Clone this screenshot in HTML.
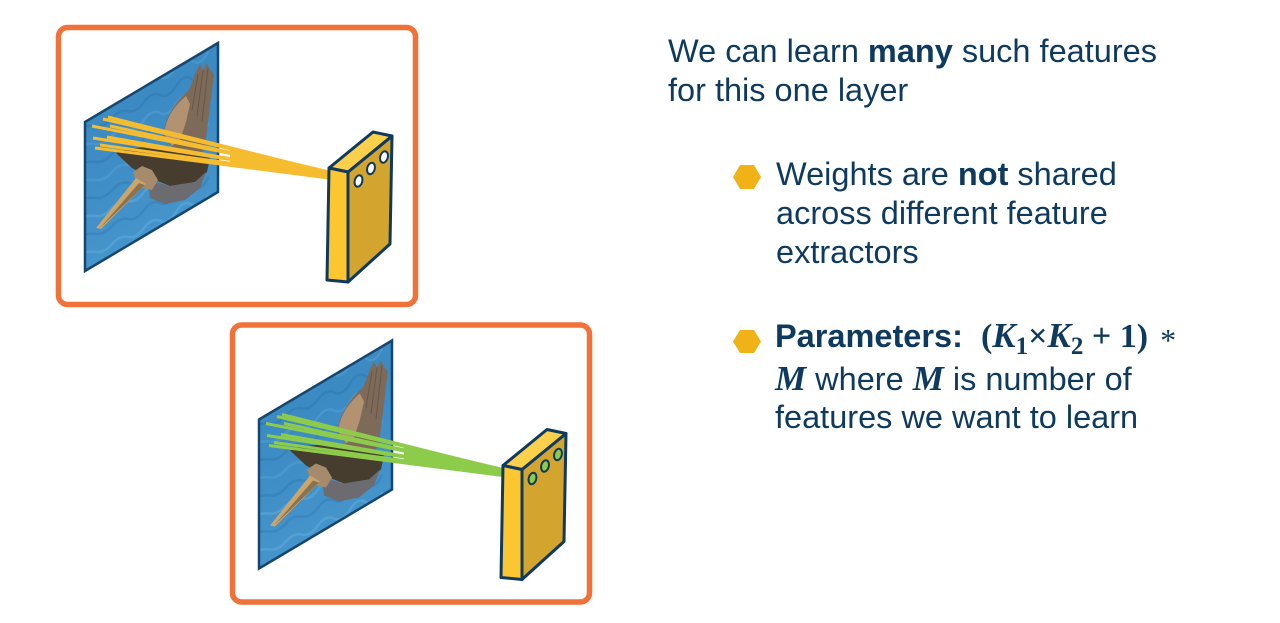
<!DOCTYPE html>
<html>
<head>
<meta charset="utf-8">
<style>
  html,body{margin:0;padding:0;background:#fff;}
  body{width:1280px;height:623px;position:relative;overflow:hidden;font-family:"Liberation Sans",Arial,sans-serif;color:#0f3a5f;}
  .t{position:absolute;font-size:32.5px;line-height:39px;white-space:nowrap;}
  .b{font-weight:bold;}
  .m{font-family:"Liberation Serif",serif;font-weight:bold;font-size:34px;}
  .mi{font-family:"Liberation Serif",serif;font-weight:bold;font-style:italic;font-size:35px;}
  .sub{font-family:"Liberation Serif",serif;font-weight:bold;font-size:25px;position:relative;top:7px;}
  .ast{font-family:"Liberation Serif",serif;font-size:32px;position:relative;top:4px;margin-left:12px;}
  svg{position:absolute;left:0;top:0;}
</style>
</head>
<body>
<svg width="1280" height="623" viewBox="0 0 1280 623" xmlns="http://www.w3.org/2000/svg">
  <defs>
    <clipPath id="pc">
      <polygon points="85,122 218,43 218,192 85,271"/>
    </clipPath>
    <linearGradient id="wg" x1="0" y1="0" x2="0.3" y2="1">
      <stop offset="0" stop-color="#3a86bd"/>
      <stop offset="0.5" stop-color="#3d8cc5"/>
      <stop offset="1" stop-color="#4797cd"/>
    </linearGradient>
    <g id="img">
      <g clip-path="url(#pc)">
        <rect x="80" y="40" width="145" height="235" fill="url(#wg)"/>
        <g fill="none" stroke-linecap="round" stroke-width="2.5">
          <path d="M80,110 q8,-3 16,-2 t16,-8 t16,-7 t16,-9 t16,-7 t16,-9 t16,-7 t16,-9" stroke="#6fb4e2" opacity="0.25"/>
          <path d="M80,128 q8,-3 16,-2 t16,-8 t16,-7 t16,-9 t16,-7 t16,-9 t16,-7 t16,-9" stroke="#25609a" opacity="0.22"/>
          <path d="M80,146 q8,-3 16,-2 t16,-8 t16,-7 t16,-9 t16,-7 t16,-9 t16,-7 t16,-9" stroke="#6fb4e2" opacity="0.25"/>
          <path d="M80,164 q8,-3 16,-2 t16,-8 t16,-7 t16,-9 t16,-7 t16,-9 t16,-7 t16,-9" stroke="#25609a" opacity="0.22"/>
          <path d="M80,182 q8,-3 16,-2 t16,-8 t16,-7 t16,-9 t16,-7 t16,-9 t16,-7 t16,-9" stroke="#6fb4e2" opacity="0.25"/>
          <path d="M80,200 q8,-3 16,-2 t16,-8 t16,-7 t16,-9 t16,-7 t16,-9 t16,-7 t16,-9" stroke="#25609a" opacity="0.22"/>
          <path d="M80,218 q8,-3 16,-2 t16,-8 t16,-7 t16,-9 t16,-7 t16,-9 t16,-7 t16,-9" stroke="#78bfec" opacity="0.3"/>
          <path d="M80,236 q8,-3 16,-2 t16,-8 t16,-7 t16,-9 t16,-7 t16,-9 t16,-7 t16,-9" stroke="#25609a" opacity="0.22"/>
          <path d="M80,254 q8,-3 16,-2 t16,-8 t16,-7 t16,-9 t16,-7 t16,-9 t16,-7 t16,-9" stroke="#78bfec" opacity="0.3"/>
          <path d="M80,272 q8,-3 16,-2 t16,-8 t16,-7 t16,-9 t16,-7 t16,-9 t16,-7 t16,-9" stroke="#25609a" opacity="0.22"/>
          <path d="M80,92 q8,-3 16,-2 t16,-8 t16,-7 t16,-9 t16,-7 t16,-9 t16,-7 t16,-9" stroke="#25609a" opacity="0.22"/>
        </g>
        <path d="M163,136 C165,118 175,102 189,90 L196,72 L200,64 L203,70 L207,63 L210,70 L214,74 L211,98 L208,122 L205,146 L196,162 L176,152 Z" fill="#7d6a58"/>
        <path d="M164,134 C166,118 174,106 186,96 L190,104 L186,122 L180,140 L172,146 Z" fill="#b39272"/>
        <g stroke="#5a4b3f" stroke-width="1" fill="none" opacity="0.6">
          <path d="M198,74 L192,110"/>
          <path d="M203,70 L197,116"/>
          <path d="M208,68 L202,122"/>
        </g>
        <path d="M116,153 C130,146 160,146 185,150 L210,158 L207,172 L195,182 L170,186 L150,178 L132,168 Z" fill="#463d2f"/>
        <path d="M148,180 L170,186 L195,182 L206,172 L200,188 L185,200 L165,204 L150,198 Z" fill="#6c6b6f"/>
        <path d="M133,172 L142,166 L152,170 L158,180 L152,190 L142,188 L136,182 Z" fill="#a58a6b"/>
        <polygon points="136,178 146,184 101,229 96,228" fill="#caa66c"/>
        <polygon points="139,183 145,185 100,228" fill="#8b7350"/>
      </g>
      <polygon points="85,122 218,43 218,192 85,271" fill="none" stroke="#16466f" stroke-width="2.5"/>
    </g>
    <g id="rays" stroke-width="3">
      <line x1="103" y1="119" x2="329" y2="172"/>
      <line x1="108" y1="117" x2="329" y2="172.5"/>
      <line x1="92" y1="126" x2="329" y2="173"/>
      <line x1="110" y1="126" x2="329" y2="174"/>
      <line x1="93" y1="138" x2="329" y2="175"/>
      <line x1="107" y1="137" x2="329" y2="176"/>
      <line x1="100" y1="145" x2="329" y2="177"/>
      <line x1="95" y1="148" x2="329" y2="178"/>
      <polygon points="230,149.5 329,172 329,178 230,164.5" stroke="none"/>
    </g>
    <g id="box">
      <g stroke="#0f3a5f" stroke-width="3" stroke-linejoin="round">
        <polygon points="348,172 392,136 390,244 348,282" fill="#d3a42e"/>
        <polygon points="329,168 373,132 392,136 348,172" fill="#fcd04a"/>
        <polygon points="329,168 348,172 348,282 327,280" fill="#fcc630"/>
      </g>
    </g>
  </defs>

  <rect x="58.5" y="27.5" width="357" height="277" rx="9" ry="9" fill="#fff" stroke="#f07238" stroke-width="5.5"/>
  <use href="#img"/>
  <g fill="#f6bc2f" stroke="#f6bc2f"><use href="#rays"/></g>
  <use href="#box"/>
  <g stroke="#0f3a5f" stroke-width="2" fill="#ffffff">
    <ellipse cx="358.5" cy="181" rx="3.8" ry="5.8" transform="rotate(15 358.5 181)"/>
    <ellipse cx="371" cy="168.5" rx="3.8" ry="5.8" transform="rotate(15 371 168.5)"/>
    <ellipse cx="384" cy="157" rx="3.8" ry="5.8" transform="rotate(15 384 157)"/>
  </g>

  <g transform="translate(174,297.5)">
    <rect x="58.5" y="27.5" width="357" height="277" rx="9" ry="9" fill="#fff" stroke="#f07238" stroke-width="5.5"/>
    <use href="#img"/>
    <g fill="#8dcc4a" stroke="#8dcc4a"><use href="#rays"/></g>
    <use href="#box"/>
    <g stroke="#0f3a5f" stroke-width="2" fill="#8dcc4a">
      <ellipse cx="358.5" cy="181" rx="3.8" ry="5.8" transform="rotate(15 358.5 181)"/>
      <ellipse cx="371" cy="168.5" rx="3.8" ry="5.8" transform="rotate(15 371 168.5)"/>
      <ellipse cx="384" cy="157" rx="3.8" ry="5.8" transform="rotate(15 384 157)"/>
    </g>
  </g>

  <polygon points="733,177 740,165 754,165 761,177 754,189 740,189" fill="#f0b216"/>
  <polygon points="733,341.5 740,330 754,330 761,341.5 754,353 740,353" fill="#f0b216"/>
</svg>

<div class="t" style="left:668px;top:32px;">We can learn <span class="b">many</span> such features<br>for this one layer</div>

<div class="t" style="left:776px;top:155px;">Weights are <span class="b">not</span> shared<br>across different feature<br>extractors</div>

<div class="t" style="left:775px;top:317px;line-height:38.5px;"><span class="b">Parameters:</span>&nbsp; <span class="m">(</span><span class="mi">K</span><span class="sub">1</span><span class="m">×</span><span class="mi">K</span><span class="sub">2</span><span class="m">&nbsp;+&nbsp;1)</span><span class="ast">*</span><br><span class="mi">M</span> where <span class="mi">M</span> is number of<br>features we want to learn</div>
</body>
</html>
